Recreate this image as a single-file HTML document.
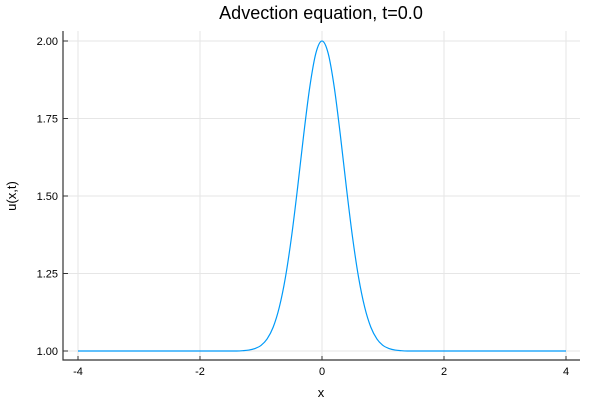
<!DOCTYPE html>
<html><head><meta charset="utf-8"><style>
body{margin:0;background:#fff}
svg text{font-family:"Liberation Sans",sans-serif;fill:#000}
</style></head><body>
<svg id="chart" width="600" height="400" viewBox="0 0 600 400">
<text x="321" y="19" font-size="18" text-anchor="middle">Advection equation, t=0.0</text>
<g id="grid"></g>
<g id="axes"></g>
<path id="curve" fill="none" stroke="#009af9" stroke-width="1.2"/>
<text x="321" y="397" font-size="13" text-anchor="middle">x</text>
<text x="16" y="196" font-size="13" text-anchor="middle" transform="rotate(-90 16 196)">u(x,t)</text>
</svg>
<script>
const xs=[-4,-3,-2,-1.5,-1.4,-1.3,-1.2,-1.1,-1.0,-0.9,-0.8,-0.7,-0.6,-0.5,-0.4,-0.3,-0.2,-0.1,0,0.1,0.2,0.3,0.4,0.5,0.6,0.7,0.8,0.9,1.0,1.1,1.2,1.3,1.4,1.5,2,3,4];
const us=[1,1,1,1,1.000,1.001,1.003,1.008,1.018,1.039,1.077,1.141,1.237,1.368,1.527,1.698,1.852,1.961,2.0,1.961,1.852,1.698,1.527,1.368,1.237,1.141,1.077,1.039,1.018,1.008,1.003,1.001,1.000,1,1,1,1];
const xTicks=[-4,-2,0,2,4];
const xTickLabels=["-4","-2","0","2","4"];
const yTicks=[1,1.25,1.5,1.75,2];
const yTickLabels=["1.00","1.25","1.50","1.75","2.00"];
const L=63,R=580,T=31,B=360;
const sx=v=>322+(v)*61;
const sy=v=>351-(v-1)*310;
const ns="http://www.w3.org/2000/svg";
const grid=document.getElementById('grid'),axes=document.getElementById('axes');
function mk(tag,attrs,parent){const e=document.createElementNS(ns,tag);for(const k in attrs)e.setAttribute(k,attrs[k]);parent.appendChild(e);return e;}
xTicks.forEach((t,i)=>{
 const g=mk('line',{x1:sx(t),x2:sx(t),y1:T,y2:B,stroke:'#e6e6e6','stroke-width':1},grid);
 
 
 const tk=mk('line',{x1:sx(t),x2:sx(t),y1:B,y2:B-4,stroke:'#333'},axes);
 
 
 const tx=mk('text',{x:sx(t),y:B+15,'font-size':11,'text-anchor':'middle'},axes);
 tx.textContent=xTickLabels[i];
 
 
});
yTicks.forEach((t,i)=>{
 const g=mk('line',{x1:L,x2:R,y1:sy(t),y2:sy(t),stroke:'#e6e6e6','stroke-width':1},grid);
 
 
 const tk=mk('line',{x1:L,x2:L+5,y1:sy(t),y2:sy(t),stroke:'#333'},axes);
 
 
 const tx=mk('text',{x:L-5,y:sy(t)+4,'font-size':11,'text-anchor':'end'},axes);
 tx.textContent=yTickLabels[i];
 
 
});
const ax=mk('path',{d:`M${L},${T} V${B} H${R}`,fill:'none',stroke:'#333','stroke-width':1.2},axes);


const P=xs.map((x,i)=>[sx(x),sy(us[i])]);
let d=`M${P[0][0]},${P[0][1]}`;
for(let i=0;i<P.length-1;i++){
 const p0=P[Math.max(i-1,0)],p1=P[i],p2=P[i+1],p3=P[Math.min(i+2,P.length-1)];
 const c1x=p1[0]+(p2[0]-p0[0])/6,c1y=p1[1]+(p2[1]-p0[1])/6;
 const c2x=p2[0]-(p3[0]-p1[0])/6,c2y=p2[1]-(p3[1]-p1[1])/6;
 d+=` C${c1x},${c1y} ${c2x},${c2y} ${p2[0]},${p2[1]}`;
}
document.getElementById('curve').setAttribute('d',d);
</script>
</body></html>
